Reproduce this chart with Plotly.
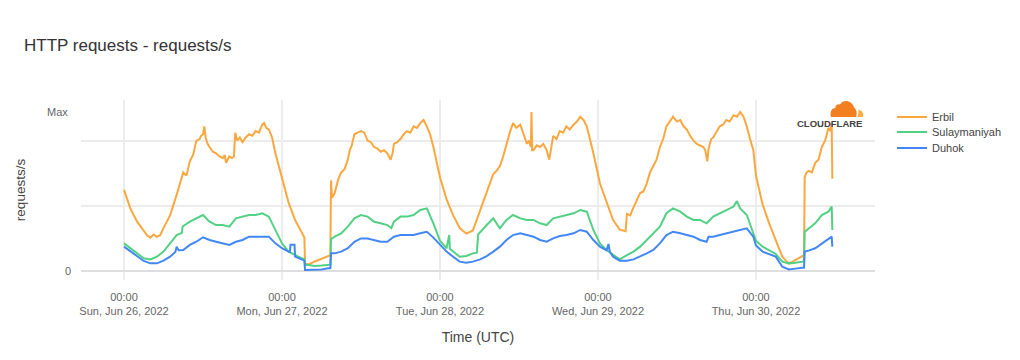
import pandas as pd
import plotly.graph_objects as go

START = pd.Timestamp("2022-06-26 00:00")

series_names = ["Erbil", "Sulaymaniyah", "Duhok"]
series_colors = ["#FBA73F", "#52D083", "#4287F5"]

# hours since Sun, Jun 26 2022 00:00 UTC ; normalized requests/s (Max = 1)
erbil_hours = [0, 1, 2, 3, 3.5, 4, 4.5, 5, 5.5, 6, 7,
               8, 8.5, 9, 9.5, 10, 10.5, 11, 11.5, 11.7, 12, 12.2, 12.4,
               12.7, 13, 13.5, 14, 14.5, 15, 15.3, 15.5, 16, 16.4, 16.7, 16.9,
               17.2, 17.6, 18, 18.5, 19, 19.5, 20, 20.5, 21, 21.3, 21.6, 22,
               22.5, 23, 24, 25, 26, 27, 27.4, 27.5, 28, 29, 30, 31,
               31.35, 31.45, 31.6, 32, 32.5, 33, 33.5, 34, 34.3, 34.6, 35, 35.5,
               36, 36.5, 37, 37.5, 38, 38.5, 39, 39.5, 40, 40.5, 40.8, 41,
               41.5, 42, 42.5, 43, 43.5, 44, 44.5, 45, 45.5, 46, 46.5, 47,
               48, 49, 50, 51, 52, 53, 54.1, 54.6, 55.1, 55.6, 56.1, 56.6,
               57.1, 57.6, 58.1, 58.6, 59.1, 59.6, 60.2, 60.7, 61.2, 61.5, 61.8, 61.9,
               62.0, 62.2, 62.7, 63.2, 63.7, 64.2, 64.6, 65.2, 65.7, 66.2, 66.7, 67.2,
               67.7, 68.3, 68.8, 69.3, 69.8, 70.3, 70.8, 71.3, 72.3, 73.3, 74.3, 75.3,
               76.2, 76.4, 76.9, 77.4, 77.9, 78.4, 78.9, 79.4, 79.9, 80.4, 80.9, 81.4,
               81.9, 82.4, 82.9, 83.4, 84, 84.5, 85, 85.5, 86, 86.5, 87, 87.5,
               88, 88.3, 88.6, 88.8, 89.2, 89.5, 90, 90.5, 91, 91.5, 92, 92.6,
               93.1, 93.6, 94.1, 94.6, 95.1, 95.6, 96, 96.5, 97, 98, 99, 100, 101,
               102, 103, 103.3, 103.4, 103.7, 104, 104.5, 105, 105.5, 106, 106.5, 107,
               107.3, 107.5, 107.6]
erbil_values = [0.51, 0.39, 0.31, 0.25, 0.225, 0.21, 0.23, 0.215, 0.225, 0.27, 0.35,
                0.48, 0.55, 0.62, 0.60, 0.69, 0.73, 0.82, 0.83, 0.85, 0.86, 0.91, 0.84,
                0.80, 0.78, 0.75, 0.74, 0.72, 0.71, 0.73, 0.68, 0.72, 0.71, 0.72, 0.87,
                0.82, 0.84, 0.81, 0.84, 0.86, 0.85, 0.88, 0.87, 0.92, 0.93, 0.90, 0.89,
                0.84, 0.74, 0.58, 0.43, 0.32, 0.24, 0.21, 0.05, 0.04, 0.06, 0.075, 0.09,
                0.10, 0.57, 0.46, 0.49, 0.57, 0.62, 0.64, 0.70, 0.76, 0.79, 0.86, 0.87,
                0.88, 0.87, 0.82, 0.81, 0.78, 0.77, 0.75, 0.76, 0.74, 0.70, 0.74, 0.80,
                0.81, 0.83, 0.86, 0.88, 0.87, 0.91, 0.90, 0.93, 0.95, 0.91, 0.86, 0.78,
                0.59, 0.45, 0.35, 0.27, 0.235, 0.255, 0.38, 0.43, 0.49, 0.55, 0.61, 0.63,
                0.66, 0.72, 0.80, 0.87, 0.93, 0.90, 0.92, 0.86, 0.80, 0.82, 0.78, 1.00,
                0.76, 0.76, 0.79, 0.78, 0.80, 0.76, 0.70, 0.85, 0.83, 0.88, 0.87, 0.91,
                0.89, 0.92, 0.94, 0.97, 0.95, 0.91, 0.83, 0.74, 0.55, 0.43, 0.32, 0.26,
                0.25, 0.36, 0.35, 0.40, 0.45, 0.49, 0.50, 0.55, 0.62, 0.66, 0.70, 0.78,
                0.83, 0.91, 0.94, 0.97, 0.94, 0.95, 0.91, 0.89, 0.85, 0.82, 0.80, 0.79,
                0.78, 0.76, 0.69, 0.77, 0.83, 0.84, 0.88, 0.91, 0.92, 0.95, 0.94, 0.98,
                0.97, 1.00, 0.97, 0.91, 0.83, 0.76, 0.60, 0.50, 0.42, 0.30, 0.20, 0.09, 0.045,
                0.07, 0.09, 0.10, 0.59, 0.62, 0.63, 0.62, 0.68, 0.70, 0.78, 0.82, 0.90,
                0.88, 0.93, 0.58]

sulay_hours = [0, 1, 2, 3, 4, 5, 6, 7, 8, 8.8, 8.9, 10, 11, 12, 13, 14, 15, 16, 17, 18, 19, 20,
               21, 22, 23, 24, 25, 26, 27, 27.4, 27.5, 28, 29, 30, 31, 31.35, 31.45, 32, 33, 34,
               35, 36, 37, 38, 39, 40, 40.6, 41, 42, 43, 44, 45, 46, 47, 48, 49, 49.4, 49.5, 50,
               51, 52, 53, 53.6, 53.8, 55.1, 56.1, 57.1, 58.1, 59.1, 60.2, 61.2, 62.2, 63.2,
               64.2, 65.2, 66.2, 67.2, 68.3, 69.3, 70.3, 71.3, 72.3, 73.3, 74.3, 75.3, 76.4,
               77.4, 78.4, 79.4, 80.4, 81.4, 82.4, 83.4, 84.5, 85.5, 86.5, 87.5, 88.5, 89.5,
               90.5, 91.5, 92.6, 93.1, 93.6, 94.6, 95.6, 96, 97, 98, 99, 100, 101, 102, 103,
               103.3, 103.4, 104, 105, 106, 107, 107.5, 107.6]
sulay_values = [0.174, 0.143, 0.111, 0.08, 0.073, 0.09, 0.122, 0.174, 0.226, 0.24, 0.28, 0.31,
                0.331, 0.352, 0.31, 0.289, 0.289, 0.279, 0.331, 0.342, 0.352, 0.352, 0.363,
                0.342, 0.258, 0.174, 0.122, 0.10, 0.08, 0.075, 0.038, 0.038, 0.031, 0.034,
                0.038, 0.04, 0.20, 0.216, 0.237, 0.279, 0.331, 0.352, 0.342, 0.31, 0.30, 0.289,
                0.27, 0.31, 0.342, 0.342, 0.352, 0.384, 0.394, 0.30, 0.19, 0.143, 0.226, 0.14,
                0.122, 0.09, 0.094, 0.111, 0.115, 0.23, 0.289, 0.331, 0.268, 0.321, 0.352,
                0.331, 0.321, 0.321, 0.30, 0.289, 0.331, 0.342, 0.352, 0.363, 0.384, 0.373,
                0.258, 0.174, 0.132, 0.10, 0.073, 0.10, 0.122, 0.153, 0.195, 0.237, 0.279,
                0.363, 0.394, 0.373, 0.342, 0.321, 0.321, 0.30, 0.342, 0.363, 0.384, 0.405,
                0.44, 0.394, 0.352, 0.237, 0.19, 0.153, 0.132, 0.107, 0.059, 0.048, 0.052,
                0.059, 0.06, 0.247, 0.268, 0.30, 0.352, 0.373, 0.405, 0.258]

duhok_hours = [0, 1, 2, 3, 4, 5, 6, 7, 7.8, 8, 8.3, 9, 10, 11, 12, 13, 14, 15, 16, 17, 18, 19,
               20, 21, 22, 23, 24, 25, 25.2, 25.3, 25.9, 26, 27, 27.4, 27.5, 28, 29, 30, 31,
               31.35, 31.45, 32, 33, 34, 35, 36, 37, 38, 39, 40, 41, 42, 43, 44, 45, 46, 47, 48,
               49, 50, 51, 52, 53, 54.1, 55.1, 56.1, 57.1, 58.1, 59.1, 60.2, 61.2, 62.2, 63.2,
               64.2, 65.2, 66.2, 67.2, 68.3, 69.3, 70.3, 71.3, 72.3, 73.3, 73.6, 73.8, 74.3,
               75.3, 76.4, 77.4, 78.4, 79.4, 80.4, 81.4, 82.4, 83.4, 84.5, 85.5, 86.5, 87.5,
               88.5, 88.8, 89.5, 90.5, 91.5, 92.6, 93.6, 94.6, 95.6, 96, 97, 98, 99, 100, 101,
               102, 103, 103.3, 103.4, 104, 105, 106, 107, 107.5, 107.6]
duhok_values = [0.153, 0.122, 0.09, 0.063, 0.048, 0.048, 0.065, 0.09, 0.12, 0.153, 0.13, 0.132,
                0.164, 0.184, 0.212, 0.195, 0.184, 0.174, 0.164, 0.184, 0.195, 0.216, 0.216,
                0.216, 0.216, 0.174, 0.143, 0.122, 0.12, 0.165, 0.165, 0.09, 0.069, 0.065,
                0.006, 0.006, 0.006, 0.01, 0.017, 0.017, 0.111, 0.111, 0.122, 0.143, 0.184,
                0.205, 0.205, 0.195, 0.184, 0.184, 0.216, 0.226, 0.226, 0.226, 0.237, 0.247,
                0.21, 0.164, 0.122, 0.09, 0.059, 0.052, 0.059, 0.073, 0.094, 0.122, 0.153,
                0.195, 0.226, 0.237, 0.226, 0.216, 0.195, 0.184, 0.205, 0.22, 0.226, 0.237,
                0.258, 0.247, 0.195, 0.153, 0.13, 0.17, 0.12, 0.09, 0.065, 0.065, 0.073, 0.09,
                0.111, 0.132, 0.174, 0.226, 0.247, 0.237, 0.226, 0.216, 0.195, 0.184, 0.215,
                0.216, 0.226, 0.237, 0.247, 0.258, 0.268, 0.216, 0.16, 0.122, 0.107, 0.09,
                0.027, 0.01, 0.015, 0.021, 0.022, 0.122, 0.128, 0.143, 0.174, 0.205, 0.216,
                0.153]

tick_days = ["2022-06-26", "2022-06-27", "2022-06-28", "2022-06-29", "2022-06-30"]
tick_labels = ["00:00<br>Sun, Jun 26, 2022", "00:00<br>Mon, Jun 27, 2022",
               "00:00<br>Tue, Jun 28, 2022", "00:00<br>Wed, Jun 29, 2022",
               "00:00<br>Thu, Jun 30, 2022"]
y_grid_vals = [0, 0.41, 0.82]
y_grid_text = ["0", "", ""]

FONT = "Liberation Sans, Arial, Helvetica, sans-serif"


def to_time(hours):
    return START + pd.to_timedelta(pd.Series(hours, dtype=float), unit="h")


fig = go.Figure()
all_hours = [erbil_hours, sulay_hours, duhok_hours]
all_values = [erbil_values, sulay_values, duhok_values]
legend_ids = ["legend", "legend2", "legend3"]
for name, color, hrs, vals, lg in zip(series_names, series_colors, all_hours, all_values, legend_ids):
    fig.add_trace(go.Scatter(x=to_time(hrs), y=vals, mode="lines", name=name, showlegend=True,
                             line=dict(color=color, width=2), legend=lg))

x_lo = START - pd.Timedelta(hours=6.53)
x_hi = START + pd.Timedelta(hours=114.08)

legend_common = dict(xanchor="left", yanchor="middle", bgcolor="rgba(0,0,0,0)",
                     font=dict(family=FONT, size=11, color="#444"), itemwidth=30)
lx = (892 - 81) / 794

fig.update_layout(
    width=1020, height=360,
    showlegend=True,
    margin=dict(l=81, r=145, t=100, b=80),
    plot_bgcolor="white", paper_bgcolor="white",
    font=dict(family=FONT, size=11, color="#666"),
    title=dict(text="HTTP requests - requests/s", x=24 / 1020, xanchor="left", xref="container",
               y=1 - 45 / 360, yref="container", yanchor="middle",
               font=dict(family=FONT, size=17, color="#333")),
    legend=dict(x=lx, y=(280 - 117) / 180, **legend_common),
    legend2=dict(x=lx, y=(280 - 132) / 180, **legend_common),
    legend3=dict(x=lx, y=(280 - 148) / 180, **legend_common),
    xaxis=dict(range=[x_lo, x_hi], tickvals=pd.to_datetime(tick_days), ticktext=tick_labels,
               showgrid=True, gridcolor="#ececec", gridwidth=2, zeroline=False, showline=False,
               ticks="", ticklabelstandoff=9,
               title=dict(text="Time (UTC)", font=dict(family=FONT, size=14, color="#444"))),
    yaxis=dict(range=[-9 / 159, 1 + 12 / 159], tickvals=y_grid_vals, ticktext=y_grid_text,
               showgrid=True, gridcolor="#ececec", gridwidth=2,
               zeroline=True, zerolinecolor="#dedede", zerolinewidth=2, showline=False,
               ticks="", ticklabelstandoff=9,
               title=dict(text="requests/s", standoff=36,
                          font=dict(family=FONT, size=13.5, color="#444"))),
    annotations=[
        dict(text="Max", x=(70 - 81) / 794, xref="paper", xanchor="right", y=1, yref="y",
             yanchor="middle", showarrow=False, font=dict(family=FONT, size=11, color="#666")),
        dict(text="<b>CLOUDFLARE</b>", x=(829 - 81) / 794, xref="paper", xanchor="center",
             y=(280 - 123) / 180, yref="paper", yanchor="middle", showarrow=False,
             font=dict(family=FONT, size=9.5, color="#404041")),
    ],
    shapes=[
        dict(type="path", xref="paper", yref="paper", xsizemode="pixel", ysizemode="pixel",
             xanchor=(830 - 81) / 794, yanchor=(280 - 117) / 180,
             path="M 1,0 L 26,0 C 27.5,3.5 26.5,8 24,9.5 C 22.5,16 13.5,18.5 10,12.5 "
                  "C 7.5,13.5 5,11.5 5.5,9 C 2,9.5 -0.5,5 1,0 Z",
             fillcolor="#F38020", line=dict(width=0), layer="above"),
        dict(type="path", xref="paper", yref="paper", xsizemode="pixel", ysizemode="pixel",
             xanchor=(830 - 81) / 794, yanchor=(280 - 117) / 180,
             path="M 27.5,0 L 33,0 C 34,3.5 32,7 28.5,7 C 28.5,4 28.2,2 27.5,0 Z",
             fillcolor="#FBAD41", line=dict(width=0), layer="above"),
    ],
)

fig.write_html("out.html", config={"displayModeBar": False},
               post_script="document.body.style.margin='0';")
